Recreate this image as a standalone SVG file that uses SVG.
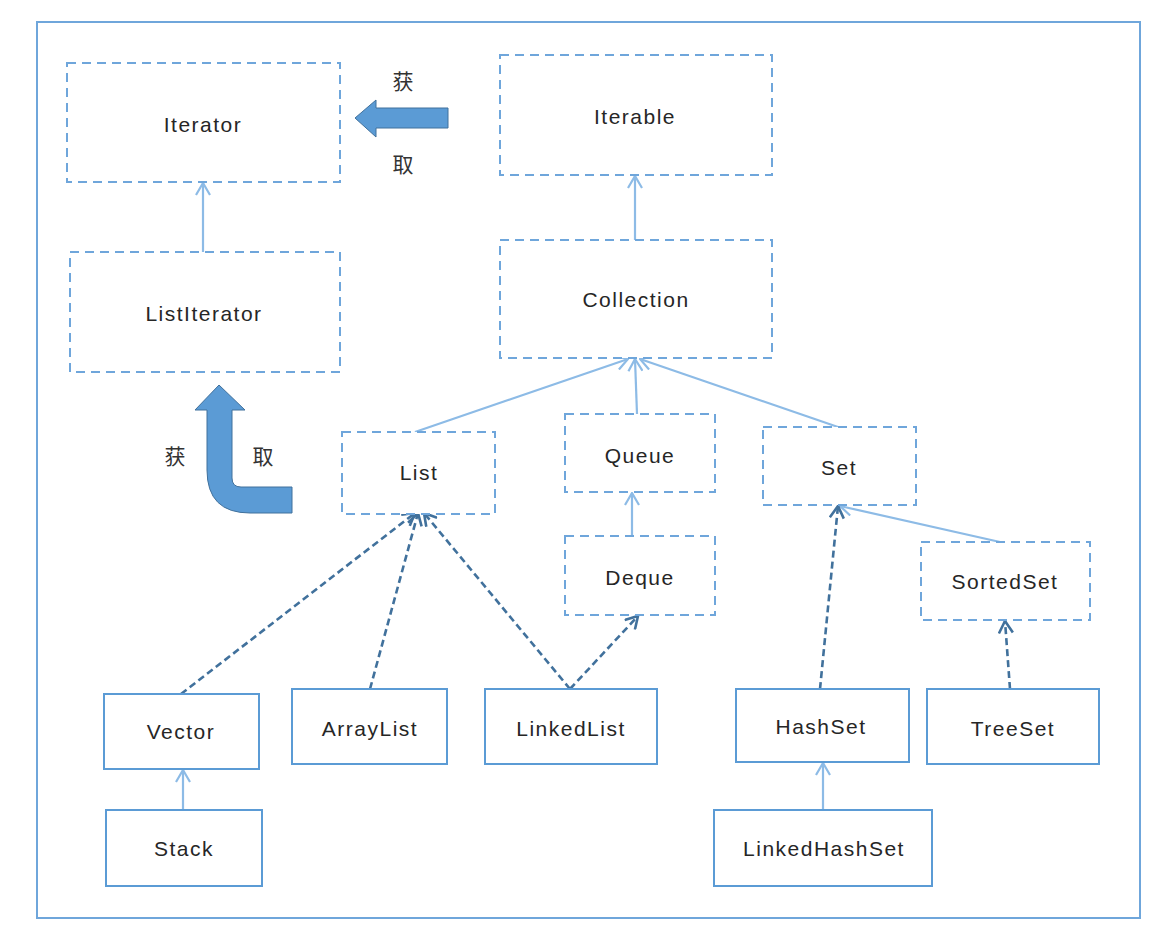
<svg xmlns="http://www.w3.org/2000/svg" width="1160" height="925" viewBox="0 0 1160 925">
<defs>
<style>
.dbox{fill:#fff;stroke:#6fa6db;stroke-width:2;stroke-dasharray:9 6}
.sbox{fill:#fff;stroke:#5b9bd5;stroke-width:2}
.lbl{font-family:"Liberation Sans",Arial,sans-serif;font-size:21px;fill:#262626;text-anchor:middle;dominant-baseline:central;letter-spacing:1.5px}
.cjk{font-family:"Noto Sans CJK SC","Noto Sans",sans-serif;font-size:21px;fill:#333;text-anchor:middle;dominant-baseline:central}
.lite{fill:none;stroke:#8dbbe6;stroke-width:2.2;marker-end:url(#openL)}
.dark{fill:none;stroke:#41719c;stroke-width:2.6;stroke-dasharray:7 4;marker-end:url(#openD)}
.block{fill:#5b9bd5;stroke:#41719c;stroke-width:1}
</style>
<marker id="openL" viewBox="0 0 14 16" refX="13" refY="8" markerWidth="14" markerHeight="16" markerUnits="userSpaceOnUse" orient="auto">
<path d="M1,1 L13,8 L1,15" fill="none" stroke="#8dbbe6" stroke-width="2.2"/>
</marker>
<marker id="openD" viewBox="0 0 14 16" refX="13" refY="8" markerWidth="14" markerHeight="16" markerUnits="userSpaceOnUse" orient="auto">
<path d="M1,1 L13,8 L1,15" fill="none" stroke="#41719c" stroke-width="2.6"/>
</marker>
</defs>
<rect x="0" y="0" width="1160" height="925" fill="#fff"/>
<rect x="37" y="22" width="1103" height="896" fill="none" stroke="#6fa6db" stroke-width="2"/>

<g id="connectors">
<line class="lite" x1="203" y1="252" x2="203" y2="183"/>
<line class="lite" x1="635" y1="240" x2="635" y2="176"/>
<line class="lite" x1="415" y1="432" x2="628" y2="359"/>
<line class="lite" x1="637" y1="414" x2="635" y2="359"/>
<line class="lite" x1="838" y1="427" x2="640" y2="359"/>
<line class="lite" x1="632" y1="536" x2="632" y2="493"/>
<line class="lite" x1="1000" y1="542" x2="840" y2="506"/>
<line class="lite" x1="183" y1="810" x2="183" y2="770"/>
<line class="lite" x1="823" y1="810" x2="823" y2="763"/>
<line class="dark" x1="181" y1="694" x2="415" y2="513"/>
<line class="dark" x1="370" y1="689" x2="418" y2="513"/>
<line class="dark" x1="570" y1="689" x2="424" y2="513"/>
<line class="dark" x1="570" y1="689" x2="638" y2="616"/>
<line class="dark" x1="820" y1="689" x2="838" y2="506"/>
<line class="dark" x1="1010" y1="689" x2="1005" y2="621"/>
</g>

<g id="get-arrow-left">
<path class="block" d="M355,118 L376,100 L376,108 L448,108 L448,128 L376,128 L376,137 Z"/>
<text class="cjk" x="403" y="80">获</text>
<text class="cjk" x="403" y="163">取</text>
</g>
<g id="get-arrow-up">
<path class="block" d="M219,385 L245,410 L232,410 L232,478 Q232,487 241,487 L292,487 L292,513 L250,513 Q207,513 207,470 L207,410 L195,410 Z"/>
<text class="cjk" x="175" y="455">获</text>
<text class="cjk" x="263" y="455">取</text>
</g>

<g id="Iterator"><rect class="dbox" x="67" y="63" width="273" height="119"/><text class="lbl" x="203" y="124">Iterator</text></g>
<g id="ListIterator"><rect class="dbox" x="70" y="252" width="270" height="120"/><text class="lbl" x="204" y="313">ListIterator</text></g>
<g id="Iterable"><rect class="dbox" x="500" y="55" width="272" height="120"/><text class="lbl" x="635" y="116">Iterable</text></g>
<g id="Collection"><rect class="dbox" x="500" y="240" width="272" height="118"/><text class="lbl" x="636" y="299">Collection</text></g>
<g id="List"><rect class="dbox" x="342" y="432" width="153" height="82"/><text class="lbl" x="419" y="472">List</text></g>
<g id="Queue"><rect class="dbox" x="565" y="414" width="150" height="78"/><text class="lbl" x="640" y="455">Queue</text></g>
<g id="Set"><rect class="dbox" x="763" y="427" width="153" height="78"/><text class="lbl" x="839" y="467">Set</text></g>
<g id="Deque"><rect class="dbox" x="565" y="536" width="150" height="79"/><text class="lbl" x="640" y="577">Deque</text></g>
<g id="SortedSet"><rect class="dbox" x="921" y="542" width="169" height="78"/><text class="lbl" x="1005" y="581">SortedSet</text></g>
<g id="Vector"><rect class="sbox" x="104" y="694" width="155" height="75"/><text class="lbl" x="181" y="731">Vector</text></g>
<g id="ArrayList"><rect class="sbox" x="292" y="689" width="155" height="75"/><text class="lbl" x="370" y="728">ArrayList</text></g>
<g id="LinkedList"><rect class="sbox" x="485" y="689" width="172" height="75"/><text class="lbl" x="571" y="728">LinkedList</text></g>
<g id="HashSet"><rect class="sbox" x="736" y="689" width="173" height="73"/><text class="lbl" x="821" y="726">HashSet</text></g>
<g id="TreeSet"><rect class="sbox" x="927" y="689" width="172" height="75"/><text class="lbl" x="1013" y="728">TreeSet</text></g>
<g id="Stack"><rect class="sbox" x="106" y="810" width="156" height="76"/><text class="lbl" x="184" y="848">Stack</text></g>
<g id="LinkedHashSet"><rect class="sbox" x="714" y="810" width="218" height="76"/><text class="lbl" x="824" y="848">LinkedHashSet</text></g>
</svg>
